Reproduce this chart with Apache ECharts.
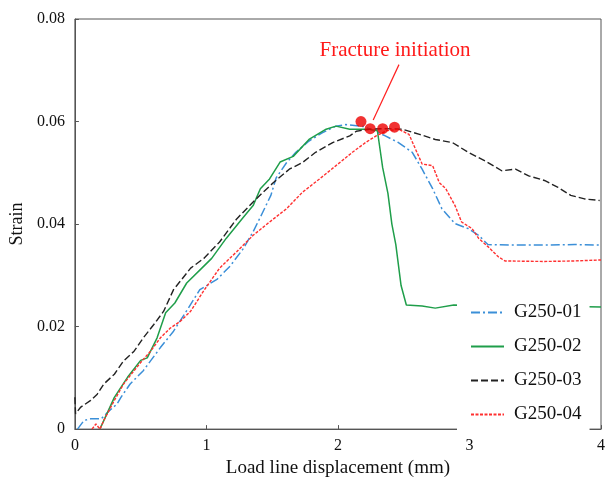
<!DOCTYPE html>
<html><head><meta charset="utf-8">
<script src="https://cdn.jsdelivr.net/npm/echarts@6/dist/echarts.min.js"></script>
<style>html,body{margin:0;padding:0;background:#fff}#c{width:608px;height:483px}</style>
</head><body><div id="c"></div>
<script>
const xTicks = [0, 1, 2, 3, 4];
const yTicks = [0, 0.02, 0.04, 0.06, 0.08];

const g01X = [0.02,0.07,0.12,0.20,0.25,0.32,0.35,0.42,0.52,0.575,0.65,0.75,0.86,0.95,1.08,1.18,1.28,1.355,1.43,1.49,1.53,1.61,1.68,1.78,1.88,1.985,2.06,2.2,2.36,2.46,2.565,2.64,2.72,2.79,2.89,2.99,3.07,3.14,3.32,3.57,3.8,4.0];
const g01Y = [0,0.0017,0.002,0.002,0.0033,0.0049,0.0062,0.0088,0.0114,0.0133,0.0159,0.0191,0.0235,0.0272,0.0292,0.0318,0.0352,0.0385,0.0424,0.0456,0.0490,0.0520,0.0540,0.0562,0.0578,0.0591,0.0594,0.0590,0.0572,0.0559,0.0540,0.0507,0.0469,0.0430,0.0401,0.0391,0.0378,0.0360,0.0359,0.0359,0.0360,0.0359];

const g02X = [0.19,0.30,0.40,0.50,0.55,0.625,0.69,0.76,0.85,0.965,1.04,1.15,1.27,1.355,1.41,1.48,1.56,1.66,1.78,1.91,1.985,2.09,2.24,2.30,2.34,2.38,2.41,2.44,2.48,2.52,2.64,2.74,2.88,3.2,3.6,4.0];
const g02Y = [0,0.0062,0.0101,0.0134,0.0139,0.0178,0.0227,0.0246,0.0285,0.0314,0.0333,0.0372,0.0410,0.0436,0.0469,0.0488,0.0521,0.0532,0.0565,0.0585,0.0591,0.0585,0.0585,0.0582,0.0510,0.0460,0.0400,0.0360,0.0280,0.0242,0.0240,0.0236,0.0242,0.0240,0.0240,0.0238];

const g03X = [0.0,0.005,0.045,0.12,0.17,0.22,0.30,0.37,0.45,0.52,0.60,0.675,0.75,0.88,0.98,1.10,1.23,1.355,1.43,1.51,1.63,1.73,1.83,1.96,2.09,2.14,2.24,2.36,2.49,2.62,2.74,2.87,2.99,3.12,3.245,3.35,3.45,3.57,3.67,3.77,3.875,3.99];
const g03Y = [0.0062,0.003,0.0043,0.0056,0.0068,0.0088,0.0107,0.0133,0.0152,0.0178,0.0204,0.0230,0.0272,0.0314,0.0333,0.0365,0.0410,0.0443,0.0462,0.0481,0.0507,0.0520,0.0540,0.0559,0.0572,0.0581,0.0585,0.0586,0.0585,0.0575,0.0565,0.0559,0.0540,0.0523,0.0504,0.0507,0.0494,0.0485,0.0472,0.0456,0.0449,0.0446];

const g04X = [0.13,0.16,0.19,0.22,0.30,0.37,0.45,0.50,0.575,0.65,0.725,0.80,0.88,0.98,1.10,1.23,1.355,1.48,1.61,1.73,1.86,1.985,2.11,2.21,2.29,2.37,2.46,2.54,2.59,2.64,2.72,2.77,2.82,2.89,2.94,3.02,3.07,3.14,3.22,3.27,3.57,3.8,4.0];
const g04Y = [0,0.001,0,0.0017,0.0056,0.0088,0.0114,0.0130,0.0152,0.0178,0.0197,0.0210,0.0230,0.0270,0.0314,0.0346,0.0378,0.0404,0.0430,0.0462,0.0488,0.0514,0.0540,0.0559,0.0572,0.0582,0.0585,0.0575,0.0546,0.0517,0.0514,0.0481,0.0469,0.0436,0.0404,0.0391,0.0372,0.0356,0.0336,0.0328,0.0327,0.0328,0.0330];

const fracX = [2.175, 2.245, 2.34, 2.43];
const fracY = [0.0600, 0.0586, 0.0586, 0.0589];

const arrowFrom = [2.464, 0.0711];
const arrowTo = [2.268, 0.0603];
const noteAt = [2.434, 0.0738];
const noteText = 'Fracture initiation';

const names = ['G250-01', 'G250-02', 'G250-03', 'G250-04'];
const zip = (xs, ys) => xs.map((x, i) => [x, ys[i]]);

const FONT = '"Liberation Serif", "Times New Roman", serif';
const chart = echarts.init(document.getElementById('c'));

function lineSeries(name, xs, ys, color, type, width) {
  return {
    name, type: 'line', data: zip(xs, ys), symbol: 'none', showSymbol: false,
    lineStyle: { color, type, width }, itemStyle: { color }, z: 2, animation: false
  };
}

chart.setOption({
  animation: false,
  grid: { left: 74, right: 5, top: 19, bottom: 51, show: true, borderColor: '#555', borderWidth: 1 },
  xAxis: {
    type: 'value', min: 0, max: 4, interval: 1,
    name: 'Load line displacement (mm)', nameLocation: 'middle', nameGap: 27,
    nameTextStyle: { fontFamily: FONT, fontSize: 19, color: '#111' },
    axisLine: { lineStyle: { color: '#555' } },
    axisTick: { inside: true, length: 4, lineStyle: { color: '#555' } },
    axisLabel: { fontFamily: FONT, fontSize: 16, color: '#111', margin: 9,
      formatter: v => xTicks.includes(v) ? String(v) : '' },
    splitLine: { show: false }
  },
  yAxis: {
    type: 'value', min: 0, max: 0.08, interval: 0.02,
    name: 'Strain', nameLocation: 'middle', nameGap: 47,
    nameTextStyle: { fontFamily: FONT, fontSize: 18, color: '#111' },
    axisLine: { show: true, lineStyle: { color: '#555' } },
    axisTick: { show: true, inside: true, length: 4, lineStyle: { color: '#555' } },
    axisLabel: { fontFamily: FONT, fontSize: 16, color: '#111', margin: 10,
      formatter: v => { const t = yTicks.find(k => Math.abs(k - v) < 1e-9); return t === undefined ? '' : (t === 0 ? '0' : t.toFixed(2)); } },
    splitLine: { show: false }
  },
  legend: {
    show: true,
    data: names, orient: 'vertical', left: 457, top: 297,
    backgroundColor: '#fff', padding: [6, 8, 6, 13],
    itemWidth: 33, itemHeight: 14, itemGap: 15,
    itemStyle: { opacity: 0 },
    textStyle: { fontFamily: FONT, fontSize: 19, color: '#111', padding: [0, 0, 0, 5] }, z: 10
  },
  series: [
    lineSeries(names[0], g01X, g01Y, '#3b8fd8', [9, 3, 2, 3], 1.5),
    lineSeries(names[1], g02X, g02Y, '#1f9e4a', 'solid', 1.5),
    lineSeries(names[2], g03X, g03Y, '#222222', [7, 3], 1.4),
    lineSeries(names[3], g04X, g04Y, '#ff3030', [3, 1.5], 1.4),
    {
      name: 'fracture', type: 'scatter', data: zip(fracX, fracY), symbol: 'circle', symbolSize: 11,
      itemStyle: { color: '#ee0000' }, z: 5, animation: false,
      markLine: {
        silent: true, symbol: ['none', 'arrow'], symbolSize: [0, 9],
        lineStyle: { color: '#ff2020', width: 1.2, type: 'solid' }, label: { show: false },
        data: [[{ coord: arrowFrom }, { coord: arrowTo }]], animation: false
      }
    }
  ]
});

const p = chart.convertToPixel({ gridIndex: 0 }, noteAt);
chart.setOption({
  graphic: [{ type: 'text', x: p[0], y: p[1], z: 20,
    style: { text: noteText, fill: '#ff1a1a', font: '21px ' + FONT, textAlign: 'center', textVerticalAlign: 'middle' } }]
});
</script></body></html>
